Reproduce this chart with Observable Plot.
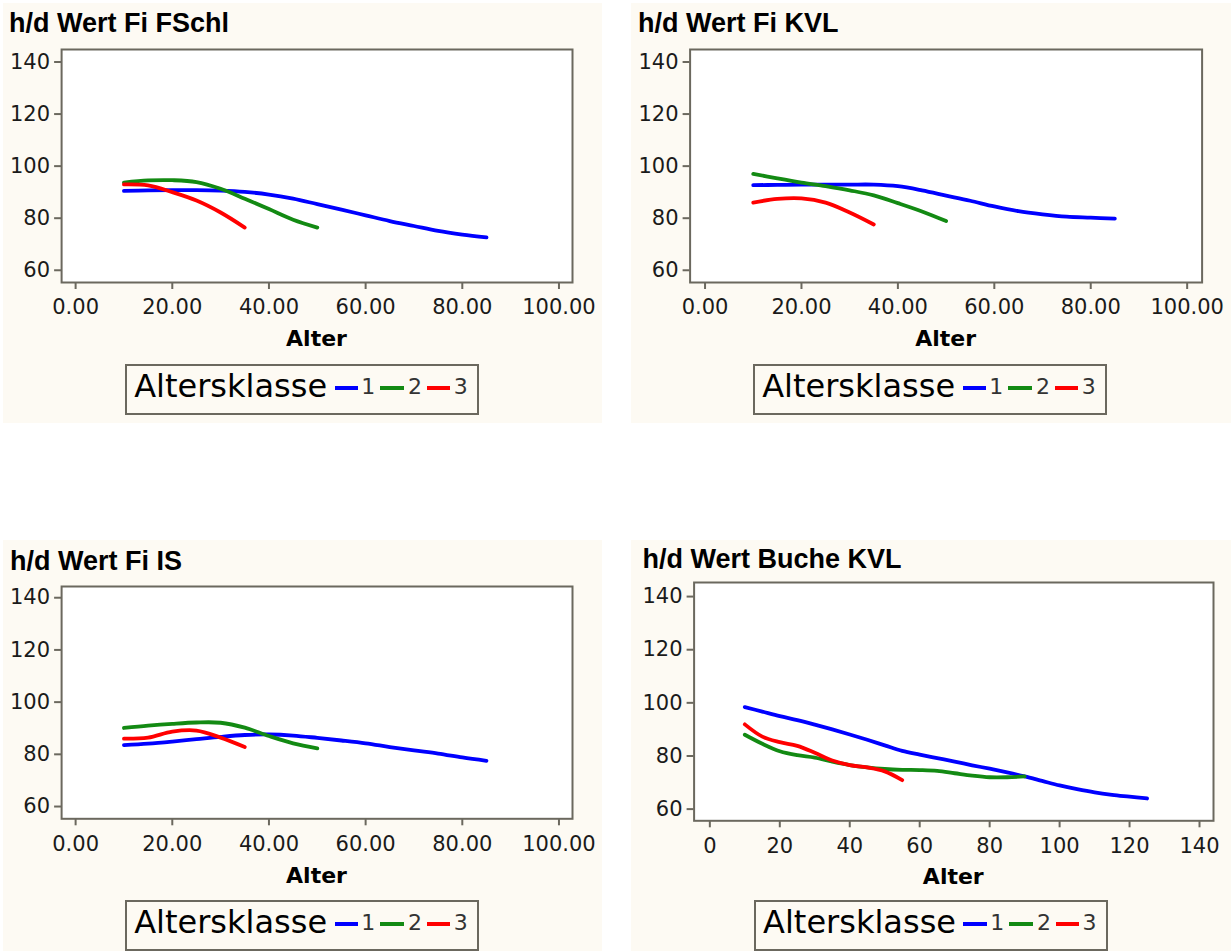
<!DOCTYPE html>
<html>
<head>
<meta charset="utf-8">
<script src="https://cdn.jsdelivr.net/npm/d3@7"></script>
<script src="https://cdn.jsdelivr.net/npm/@observablehq/plot@0.6"></script>
<style>
  body { margin: 0; background: #ffffff; }
  #page { position: relative; width: 1231px; height: 951px; overflow: hidden; background: #ffffff; }
  .bg { position: absolute; background: #fdfaf3; }
  .plotbox { position: absolute; }
  .title { position: absolute; font-family: "Liberation Sans", Arial, sans-serif; font-weight: bold;
           font-size: 27px; line-height: 27px; color: #000; white-space: nowrap; }
  .xlab { position: absolute; font-family: "DejaVu Sans", sans-serif; font-weight: bold; font-size: 22px;
          line-height: 22px; color: #000; white-space: nowrap; transform: translateX(-50%); }
  .legend { position: absolute; width: 354px; height: 51px; box-sizing: border-box; border: 2px solid #6b685e; }
  .legtitle { position: absolute; font-family: "DejaVu Sans", sans-serif; font-size: 32px; line-height: 32px;
              color: #000; white-space: nowrap; }
  .swatch { position: absolute; height: 4px; width: 23.5px; }
  .legnum { position: absolute; font-family: "DejaVu Sans", sans-serif; font-size: 22px; line-height: 22px; color: #333; }
</style>
</head>
<body>
<div id="page"></div>
<script>
// ---------- data ----------
const klassen = ["1", "2", "3"];
const xTicksFi = [0, 20, 40, 60, 80, 100];
const xTicksBu = [0, 20, 40, 60, 80, 100, 120, 140];
const yTicks = [60, 80, 100, 120, 140];

const alterFi1 = [10, 15, 20, 25, 30, 35, 40, 45, 50, 55, 60, 65, 70, 75, 80, 85];
const alterFi2 = [10, 15, 20, 25, 30, 35, 40, 45, 50];
const alterFi3 = [10, 15, 20, 25, 30, 35];
const alterBu1 = [10, 15, 20, 25, 30, 35, 40, 45, 50, 55, 60, 65, 70, 75, 80, 85, 90, 95, 100, 105, 110, 115, 120, 125];
const alterBu2 = [10, 15, 20, 25, 30, 35, 40, 45, 50, 55, 60, 65, 70, 75, 80, 85, 90];
const alterBu3 = [10, 15, 20, 25, 30, 35, 40, 45, 50, 55];

const fschl1 = [90.5, 90.7, 90.8, 90.8, 90.6, 90.1, 89.1, 87.5, 85.4, 83.3, 81.1, 78.9, 77.0, 75.1, 73.7, 72.6];
const fschl2 = [93.7, 94.5, 94.6, 93.9, 91.3, 87.5, 83.5, 79.4, 76.4];
const fschl3 = [93.0, 92.6, 90.0, 86.8, 82.2, 76.4];

const kvl1 = [92.7, 92.8, 92.9, 92.9, 92.9, 92.9, 92.3, 90.7, 88.7, 86.7, 84.5, 82.7, 81.5, 80.6, 80.2, 79.8];
const kvl2 = [97.0, 95.3, 93.7, 92.3, 90.7, 88.8, 85.8, 82.6, 78.9];
const kvl3 = [86.0, 87.4, 87.6, 86.0, 82.2, 77.6];

const is1 = [83.5, 84.1, 84.9, 85.8, 86.7, 87.4, 87.6, 87.2, 86.3, 85.3, 84.2, 82.8, 81.5, 80.3, 78.8, 77.5];
const is2 = [90.1, 91.0, 91.7, 92.2, 92.1, 90.2, 87.0, 84.2, 82.3];
const is3 = [86.0, 86.4, 88.7, 89.1, 86.4, 82.8];

const buche1 = [98.4, 96.7, 95.0, 93.5, 91.8, 90.0, 88.1, 86.1, 84.0, 81.9, 80.5, 79.2, 77.9, 76.5, 75.2, 73.8, 72.3, 70.6, 68.9, 67.5, 66.3, 65.4, 64.7, 64.0];
const buche2 = [88.0, 84.6, 81.8, 80.3, 79.4, 77.9, 76.6, 75.7, 75.1, 74.8, 74.7, 74.4, 73.5, 72.6, 72.0, 72.0, 72.3];
const buche3 = [91.9, 87.3, 85.2, 83.8, 81.2, 78.3, 76.6, 75.7, 74.2, 70.9];

// ---------- helpers ----------
const rows = (ages, values, k) => ages.map((a, i) => ({alter: a, wert: values[i], klasse: k}));
const colorRange = ["#0000ff", "#138a13", "#ff0000"];
const axisGray = "#6b685e";
const fmtFi = d => d.toFixed(2);
const fmtBu = d => String(d);

const panels = [
  {title: "h/d Wert Fi FSchl",
   data: [...rows(alterFi1, fschl1, "1"), ...rows(alterFi2, fschl2, "2"), ...rows(alterFi3, fschl3, "3")],
   bg: [3, 3, 599, 420], frame: [61.1, 572, 49.3, 282.3],
   xDomain: [-2.9, 102.8], yDomain: [55.3, 144.8], xTicks: xTicksFi, fmt: fmtFi,
   titlePos: [9, 10.1], legendPos: [125.3, 364], xlabPos: [316.5, 328.2]},
  {title: "h/d Wert Fi KVL",
   data: [...rows(alterFi1, kvl1, "1"), ...rows(alterFi2, kvl2, "2"), ...rows(alterFi3, kvl3, "3")],
   bg: [631, 3, 600, 420], frame: [689.6, 1201.6, 49.3, 282.3],
   xDomain: [-3.1, 103.1], yDomain: [55.3, 144.8], xTicks: xTicksFi, fmt: fmtFi,
   titlePos: [638, 10.1], legendPos: [753.3, 364], xlabPos: [945.6, 328.2]},
  {title: "h/d Wert Fi IS",
   data: [...rows(alterFi1, is1, "1"), ...rows(alterFi2, is2, "2"), ...rows(alterFi3, is3, "3")],
   bg: [3, 540, 599, 411], frame: [61.1, 572, 586, 818.3],
   xDomain: [-2.9, 102.8], yDomain: [55.3, 144.3], xTicks: xTicksFi, fmt: fmtFi,
   titlePos: [10, 547.6], legendPos: [125.3, 900], xlabPos: [316.5, 864.7]},
  {title: "h/d Wert Buche KVL",
   data: [...rows(alterBu1, buche1, "1"), ...rows(alterBu2, buche2, "2"), ...rows(alterBu3, buche3, "3")],
   bg: [631, 540, 600, 411], frame: [693.6, 1213, 581.7, 820],
   xDomain: [-4.5, 144], yDomain: [55.6, 145.3], xTicks: xTicksBu, fmt: fmtBu,
   titlePos: [642.6, 546], legendPos: [754.2, 900], xlabPos: [953.3, 866.4]}
];

const page = document.getElementById("page");
const swLeft = [207.3, 253.2, 299.5];
const numLeft = [234, 280.7, 326.4];

for (const p of panels) {
  const [bx, by, bw, bh] = p.bg;
  const [fx0, fx1, fy0, fy1] = p.frame;

  const bg = document.createElement("div");
  bg.className = "bg";
  Object.assign(bg.style, {left: bx + "px", top: by + "px", width: bw + "px", height: bh + "px"});
  page.appendChild(bg);

  const svgTop = fy0 - 15;
  const svgH = Math.round(fy1 + 45 - svgTop);
  const chart = Plot.plot({
    width: bw,
    height: svgH,
    marginLeft: fx0 - bx,
    marginRight: bx + bw - fx1,
    marginTop: 15,
    marginBottom: svgH - 15 - (fy1 - fy0),
    style: {background: "none", fontFamily: "DejaVu Sans, sans-serif", fontSize: "21px", color: "#1a1a1a", overflow: "visible"},
    x: {domain: p.xDomain, label: null},
    y: {domain: p.yDomain, label: null},
    color: {domain: klassen, range: colorRange},
    marks: [
      Plot.frame({fill: "white", stroke: "none"}),
      Plot.axisX({ticks: p.xTicks, tickFormat: p.fmt, tickSize: 7, tickPadding: 10,
                  stroke: axisGray, strokeWidth: 2, fill: "#1a1a1a", label: null}),
      Plot.axisY({ticks: yTicks, tickSize: 7, tickPadding: 4.5,
                  stroke: axisGray, strokeWidth: 2, fill: "#1a1a1a", label: null}),
      Plot.line(p.data, {x: "alter", y: "wert", stroke: "klasse", z: "klasse",
                         strokeWidth: 3.8, curve: "catmull-rom", strokeLinecap: "round"}),
      Plot.frame({stroke: axisGray, strokeWidth: 2})
    ]
  });
  const box = document.createElement("div");
  box.className = "plotbox";
  Object.assign(box.style, {left: bx + "px", top: svgTop + "px"});
  box.appendChild(chart);
  page.appendChild(box);

  const t = document.createElement("div");
  t.className = "title";
  t.textContent = p.title;
  Object.assign(t.style, {left: p.titlePos[0] + "px", top: p.titlePos[1] + "px"});
  page.appendChild(t);

  const xl = document.createElement("div");
  xl.className = "xlab";
  xl.textContent = "Alter";
  Object.assign(xl.style, {left: p.xlabPos[0] + "px", top: p.xlabPos[1] + "px"});
  page.appendChild(xl);

  const lg = document.createElement("div");
  lg.className = "legend";
  Object.assign(lg.style, {left: p.legendPos[0] + "px", top: p.legendPos[1] + "px"});
  const lt = document.createElement("span");
  lt.className = "legtitle";
  lt.textContent = "Altersklasse";
  Object.assign(lt.style, {left: "6.9px", top: "3.6px"});
  lg.appendChild(lt);
  klassen.forEach((k, i) => {
    const sw = document.createElement("div");
    sw.className = "swatch";
    Object.assign(sw.style, {left: swLeft[i] + "px", top: "20.3px", background: colorRange[i]});
    lg.appendChild(sw);
    const n = document.createElement("span");
    n.className = "legnum";
    n.textContent = k;
    Object.assign(n.style, {left: numLeft[i] + "px", top: "10.4px"});
    lg.appendChild(n);
  });
  page.appendChild(lg);
}
</script>
</body>
</html>
